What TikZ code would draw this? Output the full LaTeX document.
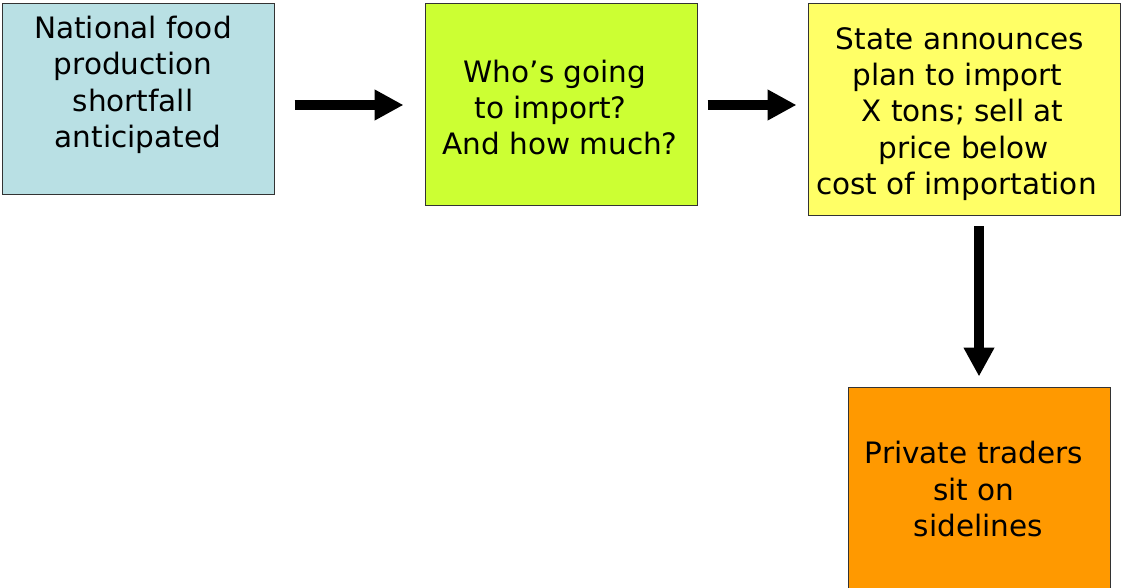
\documentclass[tikz,border=0pt]{standalone}
\usepackage{fontspec}
\setmainfont{DejaVu Sans}
\usetikzlibrary{arrows.meta}

\definecolor{boxteal}{HTML}{B9E0E4}
\definecolor{boxlime}{HTML}{CCFF33}
\definecolor{boxyellow}{HTML}{FFFF66}
\definecolor{boxorange}{HTML}{FF9900}
\definecolor{boxedge}{HTML}{333333}

\tikzset{
  stagebox/.style={draw=boxedge, line width=1pt, rectangle, inner sep=0pt},
  stagetext/.style={align=center, inner sep=0pt, text=black,
    font=\fontsize{29.5}{36.3}\selectfont},
  flowarrow/.style={line width=10pt, -{Triangle[length=29pt,width=29pt]}},
}

\begin{document}
\begin{tikzpicture}[x=1pt, y=-1pt]
  \clip (0,0) rectangle (1122,588);

  % boxes
  \node[stagebox, fill=boxteal,   minimum width=272pt, minimum height=191pt] (b1) at (138,99.5) {};
  \node[stagebox, fill=boxlime,   minimum width=272pt, minimum height=202pt] (b2) at (561,105) {};
  \node[stagebox, fill=boxyellow, minimum width=312pt, minimum height=212pt] (b3) at (964,110) {};
  \node[stagebox, fill=boxorange, minimum width=262pt, minimum height=240pt] (b4) at (979,507) {};

  % box texts
  \node[stagetext] (t1) at (133,85) {National food\\production\\shortfall\\\kern10pt anticipated};
  \node[stagetext] (t2) at (555,107.5) {Who’s going\\to import?\kern9pt\\\kern10pt And how much?};
  \node[stagetext] (t3) at (960,114) {State announces\\plan to import\kern5pt\\\kern5pt X tons; sell at\\\kern7pt price below\\cost of importation\kern7pt};
  \node[stagetext] (t4) at (974,489) {Private traders\\sit on\\\kern9pt sidelines};

  % connectors
  \draw[flowarrow, shorten <=20pt, shorten >=21pt] (b1.east |- b2.west) -- (b2.west);
  \draw[flowarrow, shorten <=10pt, shorten >=11pt] (b2.east) -- (b3.west |- b2.east);
  \draw[flowarrow, shorten <=10pt, shorten >=10pt] (b3.south -| b4.north) -- (b4.north);
\end{tikzpicture}
\end{document}
